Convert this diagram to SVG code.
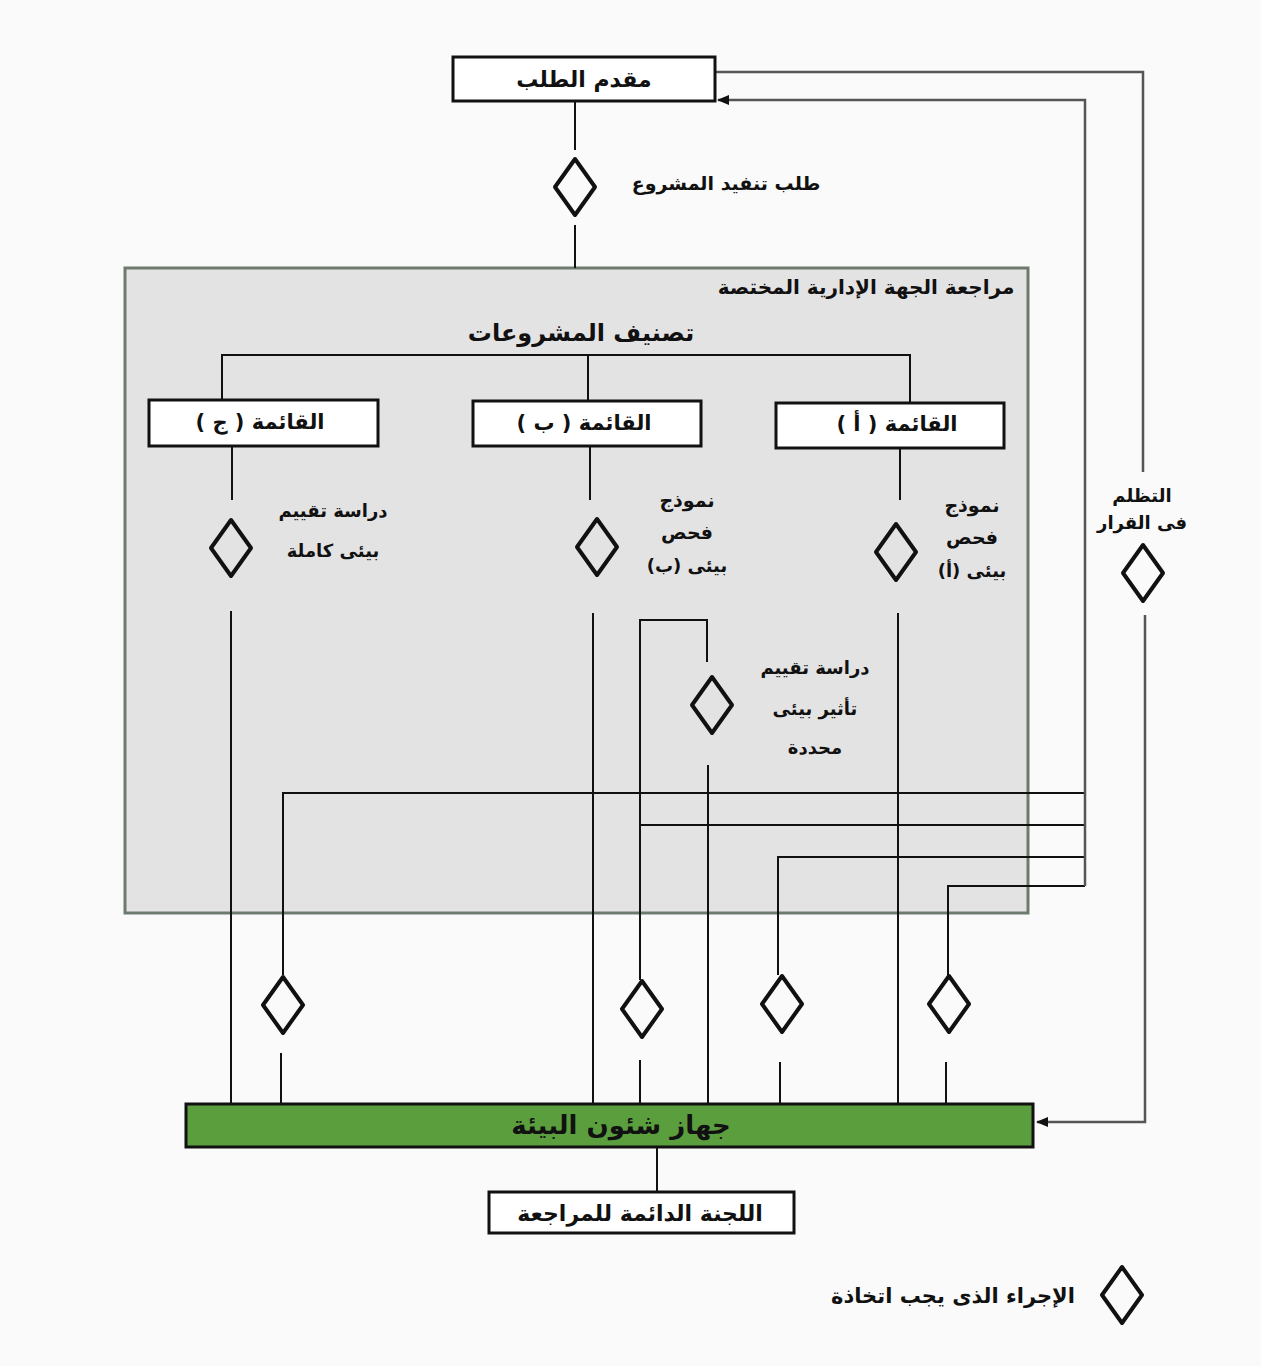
<svg xmlns="http://www.w3.org/2000/svg" width="1261" height="1366" viewBox="0 0 1261 1366">
<style>
.box{fill:#fff;stroke:#111;stroke-width:3}
.dia{fill:none;stroke:#111;stroke-width:4;stroke-linejoin:round}
.ln{fill:none;stroke:#111;stroke-width:2}
.gl{fill:none;stroke:#555;stroke-width:2.5}
.t{font-family:"DejaVu Sans",sans-serif;font-weight:bold;fill:#111;text-anchor:middle;dominant-baseline:central}
.s{font-size:18px}
</style>
<defs>
<path id="d" d="M0,-28 L20,0 L0,28 L-20,0 Z"/>
<marker id="ar" viewBox="0 0 10 10" refX="9" refY="5" markerWidth="5" markerHeight="5" orient="auto"><path d="M0,1 L10,5 L0,9 Z" fill="#111"/></marker>
</defs>
<rect width="1261" height="1366" fill="#fafafa"/>
<g id="frame">
<rect x="125" y="268" width="903" height="645" fill="#e4e3e4" stroke="#6f7a6f" stroke-width="3"/>
<text class="t" x="866" y="287" font-size="20">مراجعة الجهة الإدارية المختصة</text>
<text class="t" x="581" y="333" font-size="24">تصنيف المشروعات</text>
</g>
<g id="connectors">
<path class="ln" d="M575,101 V150 M575,225 V268"/>
<path class="ln" d="M222,400 V355 H910 V403 M588,355 V401"/>
<path class="ln" d="M232,446 V500 M590,446 V500 M900,448 V500"/>
<path class="ln" d="M231,611 V1104 M593,613 V1104 M898,613 V1104"/>
<path class="ln" d="M707,662 V620 H640 V980 M640,1060 V1104"/>
<path class="ln" d="M708,765 V1104"/>
<path class="ln" d="M1085,793 H283 V975 M281,1053 V1104"/>
<path class="ln" d="M1085,825 H640"/>
<path class="ln" d="M1085,857 H778 V975 M780,1062 V1104"/>
<path class="ln" d="M1085,886 H948 V975 M946,1062 V1104"/>
<path class="gl" d="M1085,886 V100 H718" marker-end="url(#ar)"/>
<path class="gl" d="M715,72 H1143 V472"/>
<path class="gl" d="M1145,615 V1122 H1037" marker-end="url(#ar)"/>
<path class="ln" d="M657,1147 V1192"/>
</g>
<g id="n-applicant">
<rect class="box" x="453" y="57" width="262" height="44"/>
<text class="t" x="584" y="79" font-size="22">مقدم الطلب</text>
</g>
<g id="n-request">
<use href="#d" class="dia" x="575" y="187"/>
<text class="t" x="726" y="183" font-size="19">طلب تنفيد المشروع</text>
</g>
<g id="n-listC">
<rect class="box" x="149" y="400" width="229" height="46"/>
<text class="t" x="260" y="422" font-size="21">القائمة (  ج  )</text>
</g>
<g id="n-listB">
<rect class="box" x="473" y="401" width="228" height="45"/>
<text class="t" x="584" y="423" font-size="21">القائمة (  ب  )</text>
</g>
<g id="n-listA">
<rect class="box" x="776" y="403" width="228" height="45"/>
<text class="t" x="897" y="424" font-size="21">القائمة (  أ  )</text>
</g>
<g id="n-fullEIA">
<use href="#d" class="dia" x="231" y="548"/>
<text class="t s" x="333" y="510">دراسة تقييم</text>
<text class="t s" x="333" y="550">بيئى كاملة</text>
</g>
<g id="n-formB">
<use href="#d" class="dia" x="597" y="547"/>
<text class="t" x="687" y="500" font-size="19">نموذج</text>
<text class="t" x="687" y="532" font-size="19">فحص</text>
<text class="t s" x="687" y="565">بيئى (ب)</text>
</g>
<g id="n-formA">
<use href="#d" class="dia" x="896" y="552"/>
<text class="t" x="972" y="505" font-size="19">نموذج</text>
<text class="t" x="972" y="537" font-size="19">فحص</text>
<text class="t s" x="972" y="570">بيئى (أ)</text>
</g>
<g id="n-limitedEIA">
<use href="#d" class="dia" x="712" y="705"/>
<text class="t s" x="815" y="667">دراسة تقييم</text>
<text class="t s" x="815" y="708">تأثير بيئى</text>
<text class="t s" x="815" y="747">محددة</text>
</g>
<g id="n-appeal">
<text class="t s" x="1142" y="495">التظلم</text>
<text class="t s" x="1142" y="522">فى القرار</text>
<use href="#d" class="dia" x="1143" y="573"/>
</g>
<g id="n-d1"><use href="#d" class="dia" x="283" y="1005"/></g>
<g id="n-d2"><use href="#d" class="dia" x="642" y="1009"/></g>
<g id="n-d3"><use href="#d" class="dia" x="782" y="1004"/></g>
<g id="n-d4"><use href="#d" class="dia" x="949" y="1004"/></g>
<g id="n-eeaa">
<rect x="186" y="1104" width="847" height="43" fill="#5a9e3e" stroke="#111" stroke-width="3"/>
<text class="t" x="621" y="1125" font-size="26" fill="#1a2a12">جهاز شئون البيئة</text>
</g>
<g id="n-committee">
<rect class="box" x="489" y="1192" width="305" height="41"/>
<text class="t" x="640" y="1213" font-size="22">اللجنة الدائمة للمراجعة</text>
</g>
<g id="legend">
<use href="#d" class="dia" x="1122" y="1295"/>
<text class="t" x="953" y="1296" font-size="21">الإجراء الذى يجب اتخاذة</text>
</g>
</svg>
